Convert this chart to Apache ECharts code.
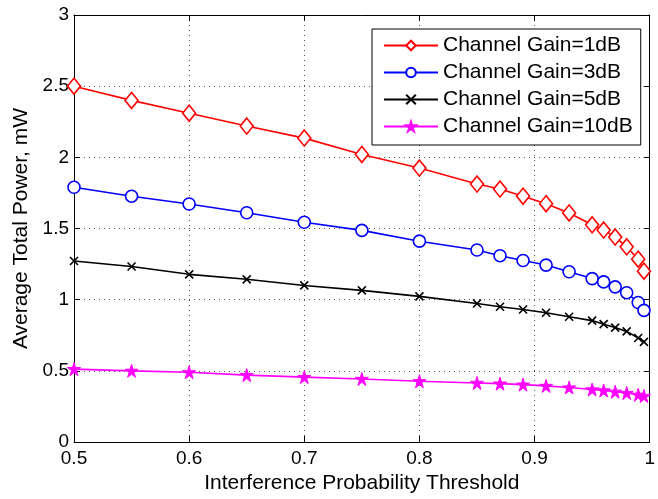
<!DOCTYPE html>
<html>
<head>
<meta charset="utf-8">
<script src="https://cdn.jsdelivr.net/npm/echarts@6/dist/echarts.min.js"></script>
<style>
  html, body { margin: 0; padding: 0; background: #fff; }
  #chart { width: 658px; height: 499px; }
</style>
</head>
<body>
<div id="chart"></div>
<script>
    // threshold values on the x axis
    var thresholds = [0.5, 0.55, 0.6, 0.65, 0.7, 0.75, 0.8, 0.85, 0.87, 0.89, 0.91, 0.93, 0.95, 0.96, 0.97, 0.98, 0.99, 0.995];
    var gain1dB = [2.50, 2.40, 2.31, 2.22, 2.135, 2.02, 1.925, 1.812, 1.777, 1.727, 1.674, 1.609, 1.526, 1.489, 1.44, 1.371, 1.284, 1.2];
    var gain3dB = [1.79, 1.727, 1.672, 1.611, 1.544, 1.487, 1.411, 1.349, 1.309, 1.275, 1.243, 1.196, 1.148, 1.125, 1.09, 1.049, 0.98, 0.925];
    var gain5dB = [1.272, 1.233, 1.178, 1.143, 1.10, 1.065, 1.023, 0.973, 0.95, 0.931, 0.908, 0.88, 0.853, 0.828, 0.804, 0.777, 0.731, 0.703];
    var gain10dB = [0.512, 0.50, 0.49, 0.47, 0.456, 0.443, 0.427, 0.415, 0.41, 0.403, 0.394, 0.383, 0.369, 0.362, 0.353, 0.344, 0.332, 0.323];
    var seriesNames = ['Channel Gain=1dB', 'Channel Gain=3dB', 'Channel Gain=5dB', 'Channel Gain=10dB'];

    var font = 'Liberation Sans, Arial, sans-serif';

    function pairs(ys) {
        var out = [];
        for (var i = 0; i < thresholds.length; i++) {
            out.push([thresholds[i], ys[i]]);
        }
        return out;
    }

    var starPath = 'path://M50,2 L61,37 L98,37 L68,59 L79,95 L50,73 L21,95 L32,59 L2,37 L39,37 Z';
    var crossPath = 'path://M0,0 L10,10 M10,0 L0,10';

    var myChart = echarts.init(document.getElementById('chart'));
    var gridLine = { show: true, lineStyle: { color: '#555', type: [1, 4], width: 1 } };
    var option = {
        animation: false,
        textStyle: { fontFamily: font },
        grid: { left: 74, right: 3, top: 15, bottom: 50, containLabel: false },
        legend: {
            orient: 'vertical',
            left: 372,
            top: 29,
            padding: [6, 8, 8, 11],
            itemGap: 6,
            itemWidth: 54,
            itemHeight: 12,
            backgroundColor: '#fff',
            borderColor: '#000',
            borderWidth: 1,
            borderRadius: 0,
            textStyle: { fontSize: 21, color: '#000', fontFamily: font },
            data: seriesNames
        },
        xAxis: [{
            type: 'value',
            min: 0.5,
            max: 1,
            interval: 0.1,
            name: 'Interference Probability Threshold',
            nameLocation: 'middle',
            nameGap: 31,
            nameTextStyle: { fontSize: 21, color: '#000', fontFamily: font },
            axisLine: { lineStyle: { color: '#000', width: 1 } },
            axisTick: { inside: true, length: 6, lineStyle: { color: '#000' } },
            axisLabel: {
                fontSize: 19, color: '#000', margin: 7, fontFamily: font,
                formatter: function (v) { return v === 1 ? '1' : v.toFixed(1); }
            },
            splitLine: gridLine
        }, {
            type: 'value',
            position: 'top',
            min: 0.5,
            max: 1,
            interval: 0.1,
            axisLine: { show: true, onZero: false, lineStyle: { color: '#000', width: 1 } },
            axisTick: { show: true, inside: true, length: 6, lineStyle: { color: '#000' } },
            axisLabel: { show: false },
            splitLine: { show: false }
        }],
        yAxis: [{
            type: 'value',
            min: 0,
            max: 3,
            interval: 0.5,
            name: 'Average Total Power, mW',
            nameLocation: 'middle',
            nameGap: 40,
            nameTextStyle: { fontSize: 21, color: '#000', fontFamily: font },
            axisLine: { show: true, lineStyle: { color: '#000', width: 1 } },
            axisTick: { show: true, inside: true, length: 6, lineStyle: { color: '#000' } },
            axisLabel: { fontSize: 19, color: '#000', margin: 5, fontFamily: font },
            splitLine: gridLine
        }, {
            type: 'value',
            position: 'right',
            min: 0,
            max: 3,
            interval: 0.5,
            axisLine: { show: true, onZero: false, lineStyle: { color: '#000', width: 1 } },
            axisTick: { show: true, inside: true, length: 6, lineStyle: { color: '#000' } },
            axisLabel: { show: false },
            splitLine: { show: false }
        }],
        series: [
            {
                name: seriesNames[0],
                type: 'line',
                data: pairs(gain1dB),
                symbol: 'diamond',
                symbolSize: [13, 16],
                lineStyle: { color: '#ff0000', width: 1.6 },
                itemStyle: { color: '#fff', borderColor: '#ff0000', borderWidth: 1.6 }
            },
            {
                name: seriesNames[1],
                type: 'line',
                data: pairs(gain3dB),
                symbol: 'circle',
                symbolSize: 12,
                lineStyle: { color: '#0000ff', width: 1.6 },
                itemStyle: { color: '#fff', borderColor: '#0000ff', borderWidth: 1.6 }
            },
            {
                name: seriesNames[2],
                type: 'line',
                data: pairs(gain5dB),
                symbol: crossPath,
                symbolSize: 8,
                lineStyle: { color: '#000', width: 1.6 },
                itemStyle: { color: 'none', borderColor: '#000', borderWidth: 1.6 }
            },
            {
                name: seriesNames[3],
                type: 'line',
                data: pairs(gain10dB),
                symbol: starPath,
                symbolSize: 13,
                lineStyle: { color: '#ff00ff', width: 1.6 },
                itemStyle: { color: '#ff00ff', borderColor: '#ff00ff', borderWidth: 1 }
            }
        ]
    };
    myChart.setOption(option);
</script>
</body>
</html>
